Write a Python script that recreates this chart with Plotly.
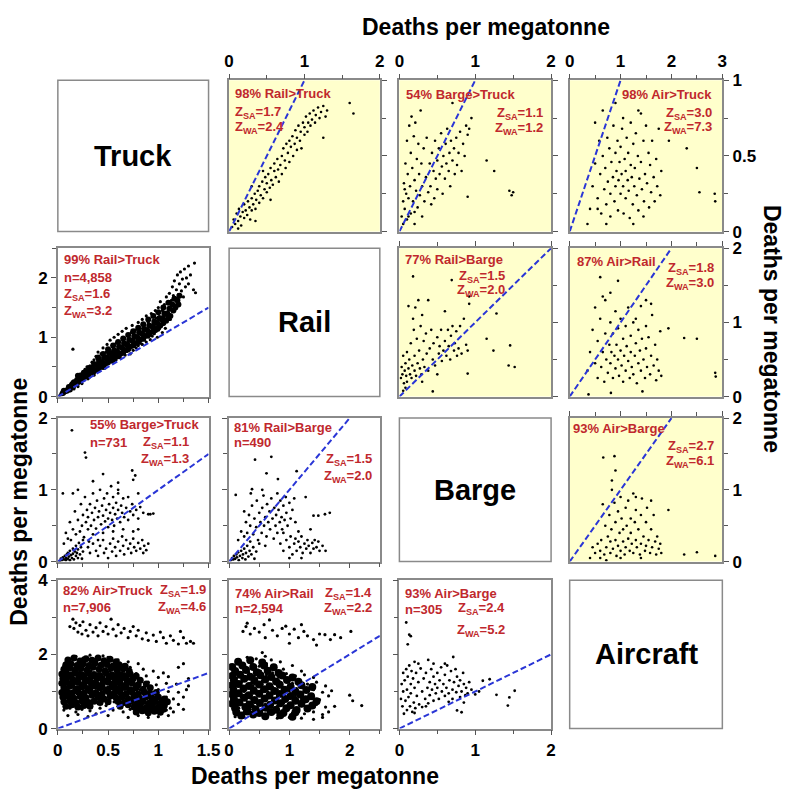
import plotly.graph_objects as go

W, H = 796, 804

# ---------------- data ----------------
# Upper triangle: column variable on x, row variable on y
up_rail_truck = [(0.04,0.03),(0.06,0.08),(0.08,0.05),(0.1,0.12),(0.12,0.07),(0.13,0.15),(0.15,0.1),(0.16,0.04),(0.18,0.13),(0.2,0.09),(0.2,0.18),(0.22,0.14),(0.24,0.11),(0.25,0.2),(0.27,0.16),(0.28,0.08),(0.3,0.22),(0.3,0.14),(0.32,0.18),(0.34,0.25),(0.35,0.15),(0.36,0.21),(0.38,0.27),(0.4,0.19),(0.4,0.3),(0.42,0.24),(0.44,0.33),(0.45,0.22),(0.47,0.28),(0.48,0.36),(0.5,0.26),(0.5,0.32),(0.52,0.38),(0.54,0.29),(0.55,0.42),(0.56,0.34),(0.58,0.31),(0.6,0.4),(0.6,0.45),(0.62,0.36),(0.64,0.48),(0.65,0.41),(0.66,0.33),(0.68,0.44),(0.7,0.5),(0.7,0.38),(0.72,0.55),(0.74,0.47),(0.75,0.42),(0.76,0.58),(0.78,0.52),(0.8,0.46),(0.8,0.6),(0.82,0.56),(0.84,0.63),(0.85,0.5),(0.87,0.58),(0.88,0.67),(0.9,0.54),(0.9,0.62),(0.92,0.7),(0.94,0.6),(0.95,0.66),(0.96,0.55),(0.98,0.72),(1.0,0.64),(1.0,0.69),(1.02,0.76),(1.04,0.66),(1.05,0.72),(1.07,0.78),(1.08,0.7),(1.1,0.74),(1.12,0.8),(1.14,0.72),(1.15,0.77),(1.18,0.82),(1.2,0.75),(1.22,0.79),(1.25,0.83),(1.28,0.76),(1.3,0.8),(1.6,0.85),(1.65,0.78),(0.35,0.07),(0.12,0.02),(0.55,0.21),(0.45,0.4),(0.3,0.3),(1.25,0.62)]
up_barge_truck = [(0.03,0.1),(0.05,0.2),(0.06,0.32),(0.07,0.15),(0.08,0.45),(0.09,0.25),(0.1,0.6),(0.1,0.08),(0.11,0.38),(0.12,0.22),(0.13,0.7),(0.14,0.3),(0.15,0.52),(0.15,0.12),(0.16,0.76),(0.17,0.42),(0.18,0.2),(0.19,0.63),(0.2,0.34),(0.2,0.05),(0.21,0.72),(0.22,0.27),(0.23,0.48),(0.24,0.16),(0.25,0.58),(0.26,0.38),(0.27,0.24),(0.28,0.8),(0.29,0.45),(0.3,0.1),(0.3,0.3),(0.32,0.55),(0.33,0.2),(0.35,0.36),(0.36,0.62),(0.38,0.26),(0.4,0.45),(0.41,0.3),(0.42,0.18),(0.43,0.52),(0.45,0.4),(0.46,0.22),(0.47,0.6),(0.48,0.35),(0.5,0.47),(0.5,0.28),(0.52,0.55),(0.53,0.38),(0.55,0.65),(0.56,0.43),(0.57,0.25),(0.58,0.5),(0.6,0.35),(0.61,0.58),(0.62,0.45),(0.63,0.68),(0.65,0.4),(0.66,0.52),(0.67,0.3),(0.68,0.6),(0.7,0.47),(0.7,0.85),(0.72,0.55),(0.73,0.38),(0.75,0.62),(0.76,0.44),(0.78,0.52),(0.8,0.66),(0.82,0.4),(0.84,0.58),(0.86,0.5),(0.88,0.7),(0.9,0.64),(0.9,0.23),(0.92,0.68),(0.95,0.75),(1.15,0.47),(1.25,0.4),(1.45,0.27),(1.5,0.26),(1.48,0.24),(0.05,0.05),(0.12,0.1),(0.2,0.13),(0.07,0.28)]
up_air_truck = [(0.35,0.05),(0.4,0.15),(0.45,0.3),(0.5,0.72),(0.5,0.45),(0.55,0.22),(0.58,0.6),(0.6,0.38),(0.62,0.12),(0.65,0.8),(0.65,0.5),(0.68,0.28),(0.7,0.42),(0.72,0.18),(0.74,0.62),(0.75,0.33),(0.78,0.55),(0.8,0.1),(0.8,0.25),(0.82,0.46),(0.85,0.36),(0.86,0.7),(0.88,0.2),(0.9,0.52),(0.9,0.3),(0.92,0.4),(0.94,0.6),(0.95,0.14),(0.96,0.34),(0.98,0.46),(1.0,0.25),(1.0,0.56),(1.02,0.38),(1.03,0.68),(1.05,0.3),(1.06,0.12),(1.08,0.48),(1.1,0.22),(1.1,0.4),(1.12,0.62),(1.14,0.34),(1.15,0.52),(1.16,0.27),(1.18,0.09),(1.2,0.44),(1.2,0.72),(1.22,0.36),(1.24,0.18),(1.25,0.58),(1.27,0.3),(1.28,0.42),(1.3,0.65),(1.32,0.24),(1.34,0.5),(1.35,0.14),(1.37,0.35),(1.4,0.78),(1.4,0.46),(1.42,0.28),(1.45,0.6),(1.46,0.2),(1.48,0.38),(1.5,0.7),(1.52,0.32),(1.55,0.52),(1.56,0.16),(1.58,0.44),(1.6,0.26),(1.62,0.6),(1.65,0.36),(1.67,0.2),(1.7,0.48),(1.72,0.3),(1.75,0.68),(1.78,0.24),(1.8,0.4),(1.95,0.6),(2.3,0.55),(2.5,0.42),(2.55,0.26),(2.85,0.25),(2.86,0.2),(0.55,0.15),(0.72,0.05),(1.05,0.75),(1.45,0.1),(1.25,0.05),(0.9,0.85),(1.35,0.8)]
up_barge_rail = [(0.18,1.62),(0.69,1.57),(0.92,1.35),(0.92,1.25),(1.28,1.12),(1.15,0.78),(1.46,0.69),(1.24,0.62),(1.44,0.42),(1.52,0.4),(0.9,0.31),(0.44,0.07),(0.02,0.25),(0.03,0.4),(0.04,0.3),(0.05,0.55),(0.06,0.18),(0.07,0.35),(0.08,0.45),(0.09,0.28),(0.1,0.6),(0.1,0.2),(0.12,0.38),(0.13,0.5),(0.14,0.3),(0.15,0.72),(0.16,0.25),(0.17,0.42),(0.18,1.05),(0.19,0.9),(0.2,0.35),(0.2,0.55),(0.21,1.2),(0.22,0.28),(0.23,0.78),(0.24,0.45),(0.25,1.3),(0.26,0.62),(0.27,0.38),(0.28,0.95),(0.29,0.3),(0.3,1.1),(0.31,0.5),(0.32,0.75),(0.33,0.4),(0.35,0.85),(0.36,0.58),(0.38,0.35),(0.4,0.65),(0.42,0.9),(0.44,0.5),(0.45,0.72),(0.47,0.42),(0.5,0.8),(0.52,0.58),(0.53,0.68),(0.55,0.9),(0.56,0.48),(0.58,0.62),(0.6,0.75),(0.62,0.55),(0.64,0.9),(0.65,0.68),(0.67,0.5),(0.68,0.82),(0.7,0.95),(0.72,0.62),(0.73,0.72),(0.75,0.88),(0.76,0.55),(0.78,0.65),(0.8,0.95),(0.82,0.58),(0.85,1.05),(0.88,0.7),(0.9,0.62),(0.38,1.3),(0.12,1.22),(0.08,0.12),(0.05,0.08),(0.3,0.2),(0.6,1.15),(0.5,0.3)]
up_air_rail = [(0.6,1.61),(0.95,1.56),(1.94,0.92),(2.25,0.79),(2.5,0.78),(2.86,0.32),(2.87,0.27),(0.37,0.03),(0.81,0.05),(1.43,0.07),(0.35,0.35),(0.4,0.6),(0.45,0.9),(0.5,0.45),(0.5,1.2),(0.55,0.25),(0.55,0.75),(0.6,1.05),(0.62,0.4),(0.65,0.6),(0.68,0.2),(0.7,0.85),(0.7,1.3),(0.72,0.5),(0.75,0.32),(0.78,0.7),(0.8,1.0),(0.8,0.45),(0.82,0.6),(0.85,0.25),(0.85,0.85),(0.88,0.55),(0.9,1.15),(0.9,0.38),(0.92,0.7),(0.95,0.5),(0.95,0.92),(0.97,0.28),(1.0,0.62),(1.0,1.05),(1.02,0.42),(1.05,0.78),(1.05,0.2),(1.07,0.55),(1.1,0.95),(1.1,0.35),(1.12,0.68),(1.15,0.48),(1.15,1.2),(1.18,0.25),(1.2,0.6),(1.2,0.82),(1.22,0.4),(1.25,1.0),(1.25,0.3),(1.28,0.55),(1.3,0.72),(1.32,0.18),(1.35,0.9),(1.35,0.45),(1.38,0.62),(1.4,1.22),(1.4,0.35),(1.42,0.78),(1.45,0.5),(1.48,0.25),(1.5,0.95),(1.5,0.65),(1.52,0.4),(1.55,0.8),(1.58,0.3),(1.6,0.55),(1.62,1.1),(1.65,0.42),(1.68,0.7),(1.7,0.22),(1.72,0.5),(1.75,0.35),(1.78,0.88),(1.8,0.28),(0.65,1.35),(0.8,1.4),(1.5,1.3),(1.6,1.25),(1.3,1.05)]
up_air_barge = [(0.66,1.45),(0.88,1.47),(0.9,1.27),(0.83,1.13),(0.83,1.0),(1.94,0.72),(2.5,0.13),(2.86,0.08),(2.25,0.1),(0.45,0.2),(0.5,0.12),(0.55,0.25),(0.6,0.15),(0.62,0.3),(0.65,0.8),(0.68,0.1),(0.7,0.5),(0.72,0.2),(0.75,0.35),(0.78,0.65),(0.8,0.12),(0.8,0.28),(0.82,0.45),(0.85,0.18),(0.88,0.82),(0.9,0.55),(0.9,0.3),(0.92,0.08),(0.95,0.7),(0.95,0.22),(0.98,0.4),(1.0,0.15),(1.0,0.9),(1.02,0.6),(1.05,0.28),(1.05,0.45),(1.08,0.1),(1.1,0.75),(1.1,0.2),(1.12,0.5),(1.15,0.32),(1.15,0.85),(1.18,0.15),(1.2,0.6),(1.2,0.4),(1.22,0.25),(1.25,0.95),(1.25,0.12),(1.28,0.55),(1.3,0.3),(1.3,0.72),(1.32,0.2),(1.35,0.45),(1.38,0.1),(1.4,0.65),(1.4,0.25),(1.42,0.88),(1.45,0.35),(1.48,0.15),(1.5,0.55),(1.5,0.22),(1.52,0.75),(1.55,0.3),(1.58,0.12),(1.6,0.45),(1.62,0.2),(1.65,0.65),(1.68,0.28),(1.7,0.1),(1.72,0.35),(1.75,0.18),(1.78,0.25),(1.8,0.12),(0.4,0.05),(0.6,0.05),(1.0,0.05),(1.4,0.05),(0.72,0.02),(1.6,0.85),(1.3,0.9)]

# Lower triangle: column variable on x, row variable on y
lo_truck_rail = [(0.02,0.02),(0.03,0.05),(0.04,0.03),(0.05,0.08),(0.05,0.04),(0.06,0.1),(0.07,0.06),(0.08,0.12),(0.08,0.07),(0.09,0.14),(0.1,0.1),(0.1,0.16),(0.11,0.13),(0.12,0.18),(0.12,0.1),(0.13,0.2),(0.14,0.15),(0.14,0.24),(0.15,0.18),(0.16,0.22),(0.16,0.13),(0.17,0.27),(0.18,0.2),(0.18,0.3),(0.19,0.24),(0.2,0.17),(0.2,0.28),(0.21,0.33),(0.22,0.25),(0.22,0.38),(0.23,0.3),(0.24,0.22),(0.24,0.35),(0.25,0.42),(0.26,0.28),(0.26,0.37),(0.27,0.46),(0.28,0.32),(0.28,0.4),(0.29,0.5),(0.3,0.3),(0.3,0.44),(0.31,0.38),(0.32,0.52),(0.32,0.34),(0.33,0.46),(0.34,0.58),(0.34,0.4),(0.35,0.5),(0.36,0.36),(0.36,0.62),(0.37,0.45),(0.38,0.55),(0.38,0.68),(0.39,0.42),(0.4,0.5),(0.4,0.6),(0.4,0.75),(0.41,0.46),(0.42,0.65),(0.42,0.55),(0.43,0.72),(0.44,0.5),(0.44,0.6),(0.45,0.82),(0.46,0.56),(0.46,0.68),(0.47,0.48),(0.48,0.75),(0.48,0.62),(0.49,0.88),(0.5,0.55),(0.5,0.7),(0.51,0.8),(0.52,0.6),(0.52,0.95),(0.53,0.68),(0.54,0.75),(0.54,0.58),(0.55,0.85),(0.56,0.66),(0.56,1.0),(0.57,0.72),(0.58,0.62),(0.58,0.9),(0.59,0.78),(0.6,0.68),(0.6,1.05),(0.6,0.85),(0.61,0.74),(0.62,0.92),(0.62,0.66),(0.63,0.82),(0.64,1.1),(0.64,0.72),(0.65,0.88),(0.66,0.78),(0.66,0.98),(0.67,0.7),(0.68,0.85),(0.68,1.15),(0.69,0.76),(0.7,0.92),(0.7,1.02),(0.71,0.8),(0.72,0.95),(0.72,0.72),(0.73,1.08),(0.74,0.86),(0.74,1.2),(0.75,0.78),(0.76,0.98),(0.76,0.9),(0.77,1.12),(0.78,0.82),(0.78,1.02),(0.79,0.94),(0.8,1.25),(0.8,0.86),(0.8,1.08),(0.81,0.98),(0.82,0.9),(0.82,1.15),(0.83,1.04),(0.84,0.88),(0.84,1.3),(0.85,1.1),(0.86,0.95),(0.86,1.2),(0.87,1.02),(0.88,0.92),(0.88,1.36),(0.89,1.12),(0.9,1.0),(0.9,1.25),(0.91,1.08),(0.92,1.18),(0.92,0.96),(0.93,1.4),(0.94,1.12),(0.94,1.02),(0.95,1.28),(0.96,1.06),(0.96,1.2),(0.97,1.45),(0.98,1.1),(0.98,1.32),(0.99,1.0),(1.0,1.22),(1.0,1.5),(1.0,1.12),(1.01,1.35),(1.02,1.18),(1.02,1.6),(1.03,1.28),(1.04,1.08),(1.04,1.45),(1.05,1.22),(1.06,1.55),(1.06,1.35),(1.07,1.15),(1.08,1.68),(1.08,1.42),(1.09,1.26),(1.1,1.58),(1.1,1.38),(1.11,1.74),(1.12,1.5),(1.12,1.3),(1.13,1.62),(1.14,1.85),(1.14,1.44),(1.15,1.7),(1.16,1.55),(1.16,1.95),(1.17,1.65),(1.18,1.8),(1.18,1.5),(1.19,2.05),(1.2,1.72),(1.2,1.6),(1.21,1.9),(1.22,2.1),(1.23,1.78),(1.24,1.98),(1.25,1.68),(1.26,2.15),(1.27,1.85),(1.28,2.0),(1.3,2.2),(1.3,1.9),(1.32,2.05),(1.35,1.8),(1.37,1.75),(1.36,2.25),(0.15,0.8)]
lo_truck_rail_core = [(0.05,0.06),(0.06,0.1),(0.09,0.1),(0.11,0.16),(0.12,0.12),(0.15,0.16),(0.16,0.24),(0.14,0.2),(0.19,0.22),(0.21,0.3),(0.2,0.35),(0.22,0.26),(0.25,0.3),(0.26,0.4),(0.24,0.36),(0.27,0.34),(0.3,0.34),(0.29,0.42),(0.31,0.48),(0.32,0.4),(0.35,0.4),(0.34,0.48),(0.36,0.55),(0.37,0.45),(0.4,0.45),(0.39,0.53),(0.41,0.6),(0.42,0.5),(0.4,0.66),(0.45,0.5),(0.44,0.58),(0.46,0.65),(0.47,0.55),(0.45,0.72),(0.5,0.58),(0.49,0.66),(0.51,0.74),(0.52,0.62),(0.5,0.8),(0.55,0.62),(0.54,0.7),(0.56,0.78),(0.57,0.68),(0.55,0.86),(0.6,0.68),(0.59,0.76),(0.61,0.84),(0.62,0.72),(0.6,0.92),(0.65,0.74),(0.64,0.82),(0.66,0.9),(0.67,0.78),(0.65,0.98),(0.7,0.8),(0.69,0.88),(0.71,0.96),(0.72,0.84),(0.7,1.04),(0.75,0.86),(0.74,0.94),(0.76,1.02),(0.77,0.9),(0.75,1.1),(0.8,0.92),(0.79,1.0),(0.81,1.08),(0.82,0.96),(0.8,1.16),(0.85,0.98),(0.84,1.06),(0.86,1.14),(0.87,1.02),(0.85,1.22),(0.9,1.04),(0.89,1.12),(0.91,1.2),(0.92,1.08),(0.9,1.3),(0.95,1.1),(0.94,1.18),(0.96,1.26),(0.97,1.14),(0.95,1.36),(1.0,1.16),(0.99,1.24),(1.01,1.32),(1.02,1.2),(1.0,1.42),(1.05,1.24),(1.04,1.32),(1.06,1.4),(1.07,1.28),(1.05,1.5),(1.1,1.32),(1.09,1.4),(1.11,1.48),(1.12,1.36),(1.1,1.58),(1.15,1.45),(1.14,1.55),(1.16,1.65),(1.17,1.5),(1.2,1.55),(1.21,1.7),(1.19,1.62)]
lo_truck_barge = [(0.02,0.01),(0.03,0.04),(0.04,0.02),(0.05,0.06),(0.06,0.03),(0.07,0.08),(0.08,0.02),(0.08,0.05),(0.09,0.1),(0.1,0.04),(0.1,0.12),(0.11,0.07),(0.12,0.02),(0.12,0.15),(0.13,0.09),(0.14,0.05),(0.15,0.18),(0.15,0.11),(0.16,0.03),(0.17,0.14),(0.18,0.08),(0.18,0.22),(0.19,0.12),(0.2,0.05),(0.2,0.17),(0.21,0.26),(0.22,0.1),(0.23,0.2),(0.24,0.04),(0.25,0.14),(0.06,0.25),(0.08,0.4),(0.1,0.32),(0.12,0.55),(0.13,0.3),(0.15,0.95),(0.15,0.45),(0.17,0.7),(0.18,0.38),(0.2,0.58),(0.2,1.0),(0.22,0.42),(0.23,0.8),(0.24,0.5),(0.25,0.65),(0.26,0.34),(0.27,0.9),(0.28,0.55),(0.29,0.72),(0.3,0.45),(0.3,0.62),(0.31,0.28),(0.32,0.8),(0.33,0.5),(0.34,0.68),(0.35,0.38),(0.35,0.95),(0.36,0.58),(0.37,0.75),(0.38,0.46),(0.39,0.85),(0.4,0.62),(0.4,0.3),(0.41,0.7),(0.42,1.0),(0.43,0.52),(0.44,0.78),(0.45,0.64),(0.45,0.4),(0.46,0.88),(0.47,0.56),(0.48,0.72),(0.49,0.95),(0.5,0.6),(0.5,0.48),(0.51,0.8),(0.52,0.68),(0.53,1.05),(0.54,0.58),(0.55,0.75),(0.55,0.9),(0.56,0.5),(0.57,0.66),(0.58,0.82),(0.59,0.6),(0.6,0.72),(0.6,0.95),(0.62,0.55),(0.63,0.78),(0.64,0.68),(0.65,0.88),(0.66,0.62),(0.68,0.75),(0.7,0.58),(0.7,0.9),(0.72,0.7),(0.74,0.8),(0.75,0.65),(0.78,0.72),(0.8,0.6),(0.82,0.76),(0.85,0.68),(0.9,0.66),(0.92,0.66),(0.95,0.67),(0.25,0.3),(0.3,0.2),(0.32,0.12),(0.35,0.25),(0.38,0.15),(0.4,0.08),(0.42,0.22),(0.45,0.3),(0.46,0.12),(0.48,0.18),(0.5,0.05),(0.52,0.25),(0.54,0.14),(0.55,0.32),(0.57,0.2),(0.58,0.08),(0.6,0.28),(0.62,0.15),(0.64,0.35),(0.65,0.22),(0.66,0.1),(0.68,0.3),(0.7,0.18),(0.72,0.25),(0.73,0.12),(0.75,0.32),(0.76,0.2),(0.78,0.15),(0.8,0.26),(0.82,0.18),(0.84,0.3),(0.85,0.12),(0.86,0.22),(0.88,0.16),(0.9,0.25),(0.55,0.42),(0.65,0.45),(0.75,0.42),(0.8,0.45),(0.14,1.83),(0.27,1.52),(0.28,1.45),(0.45,1.22),(0.6,1.1),(0.74,1.27),(0.77,1.2),(0.75,1.14),(0.6,1.0),(0.8,0.95),(0.05,0.95),(0.35,1.12)]
lo_rail_barge = [(0.03,0.02),(0.05,0.05),(0.07,0.03),(0.08,0.08),(0.1,0.04),(0.12,0.1),(0.13,0.06),(0.15,0.13),(0.16,0.02),(0.18,0.08),(0.2,0.15),(0.22,0.05),(0.23,0.1),(0.25,0.18),(0.27,0.03),(0.28,0.12),(0.3,0.22),(0.32,0.07),(0.34,0.15),(0.35,0.28),(0.37,0.1),(0.4,0.2),(0.42,0.04),(0.45,0.14),(0.15,0.3),(0.2,0.42),(0.25,0.35),(0.28,0.55),(0.3,0.4),(0.33,0.65),(0.35,0.5),(0.38,0.78),(0.4,0.38),(0.42,0.6),(0.45,0.48),(0.46,0.85),(0.48,0.3),(0.5,0.68),(0.52,0.55),(0.54,0.4),(0.55,0.75),(0.57,0.92),(0.58,0.5),(0.6,0.62),(0.62,0.35),(0.63,0.8),(0.65,0.55),(0.67,0.7),(0.68,0.45),(0.7,0.88),(0.72,0.6),(0.74,0.32),(0.75,0.75),(0.77,0.5),(0.78,0.65),(0.8,0.4),(0.8,0.95),(0.82,0.72),(0.84,0.55),(0.85,0.85),(0.87,0.62),(0.88,0.45),(0.9,0.78),(0.92,0.58),(0.94,0.9),(0.95,0.68),(0.97,0.5),(1.0,0.82),(1.02,0.6),(1.05,0.72),(1.08,0.88),(1.1,0.55),(0.36,0.95),(0.55,1.0),(0.25,0.7),(0.6,0.22),(0.5,0.25),(0.85,0.25),(0.9,0.15),(0.95,0.3),(1.0,0.2),(1.02,0.35),(1.05,0.1),(1.08,0.25),(1.1,0.32),(1.12,0.15),(1.15,0.28),(1.18,0.2),(1.2,0.35),(1.22,0.12),(1.25,0.25),(1.28,0.18),(1.3,0.3),(1.32,0.22),(1.35,0.12),(1.38,0.26),(1.4,0.18),(1.42,0.3),(1.45,0.2),(1.48,0.28),(1.5,0.15),(1.55,0.22),(1.6,0.15),(1.2,0.05),(1.0,0.05),(0.9,0.4),(1.15,0.42),(0.43,1.42),(0.7,1.46),(0.62,1.23),(1.12,1.26),(0.11,0.93),(0.38,1.01),(0.81,1.15),(1.27,0.9),(1.4,0.64),(1.48,0.64),(1.59,0.66),(1.67,0.68),(1.35,0.45)]
lo_truck_air = [(0.15,2.95),(0.16,2.7),(0.18,2.85),(0.2,2.6),(0.22,2.78),(0.24,2.55),(0.25,2.88),(0.28,2.65),(0.3,2.5),(0.32,2.8),(0.35,2.6),(0.38,2.72),(0.4,2.5),(0.42,2.85),(0.45,2.62),(0.48,2.75),(0.5,2.55),(0.53,2.95),(0.55,2.68),(0.58,2.5),(0.6,2.8),(0.63,2.58),(0.66,2.7),(0.7,2.45),(0.72,2.62),(0.75,2.75),(0.78,2.5),(0.8,2.65),(0.84,2.42),(0.88,2.58),(0.9,2.38),(0.95,2.52),(0.98,2.35),(1.02,2.6),(1.05,2.45),(1.08,2.3),(1.12,2.5),(1.15,2.38),(1.2,2.28),(1.25,2.45),(1.28,2.3),(1.32,2.35),(1.35,2.3),(1.22,2.62),(0.12,2.75),(0.1,1.85),(0.18,1.95),(0.25,1.9),(0.32,1.98),(0.4,1.88),(0.5,1.92),(0.6,1.85),(0.7,1.8),(0.8,1.75),(0.14,1.9),(0.45,1.96),(0.06,1.7),(0.12,1.75),(0.2,1.68),(0.27,1.78),(0.35,1.72),(0.42,1.65),(0.5,1.75),(0.57,1.68),(0.65,1.72),(0.72,1.65),(0.85,1.6),(0.95,1.55),(1.05,1.5),(1.2,1.65),(1.25,1.75),(0.05,1.5),(0.1,1.55),(0.15,1.45),(0.22,1.52),(0.28,1.42),(0.33,1.55),(0.4,1.48),(0.46,1.4),(0.52,1.55),(0.58,1.45),(0.64,1.5),(0.7,1.4),(0.78,1.48),(0.88,1.42),(1.0,1.38),(1.1,1.4),(1.3,1.35),(0.04,1.3),(0.09,1.35),(0.14,1.25),(0.19,1.32),(0.24,1.22),(0.3,1.35),(0.36,1.28),(0.42,1.2),(0.48,1.33),(0.54,1.25),(0.6,1.3),(0.66,1.2),(0.72,1.28),(0.8,1.22),(0.9,1.25),(0.98,1.18),(1.08,1.22),(1.18,1.2),(1.3,1.15),(0.05,1.1),(0.1,1.15),(0.16,1.05),(0.21,1.12),(0.26,1.02),(0.32,1.15),(0.38,1.08),(0.44,1.0),(0.5,1.12),(0.56,1.05),(0.62,1.1),(0.68,1.0),(0.75,1.08),(0.82,1.05),(0.9,1.0),(1.0,1.05),(1.1,1.0),(1.2,0.98),(1.28,1.05),(0.06,0.9),(0.11,0.95),(0.17,0.85),(0.22,0.92),(0.28,0.82),(0.34,0.95),(0.4,0.88),(0.46,0.8),(0.52,0.92),(0.58,0.85),(0.65,0.9),(0.72,0.82),(0.78,0.92),(0.85,0.85),(0.92,0.88),(1.0,0.82),(1.08,0.85),(1.15,0.8),(1.25,0.85),(0.05,0.7),(0.1,0.75),(0.15,0.65),(0.2,0.72),(0.26,0.62),(0.32,0.75),(0.4,0.68),(0.48,0.62),(0.56,0.72),(0.64,0.65),(0.7,0.72),(0.76,0.6),(0.82,0.7),(0.88,0.62),(0.94,0.72),(1.0,0.6),(1.06,0.68),(1.12,0.55),(1.2,0.65),(0.06,0.5),(0.12,0.55),(0.18,0.45),(0.24,0.52),(0.32,0.48),(0.42,0.55),(0.55,0.5),(0.65,0.45),(0.72,0.52),(0.78,0.42),(0.84,0.5),(0.9,0.4),(0.96,0.48),(1.02,0.42),(1.08,0.5),(1.15,0.45),(1.25,0.52),(0.1,0.35),(0.2,0.38),(0.3,0.32),(0.5,0.35),(0.7,0.3),(0.8,0.35),(0.9,0.3),(1.0,0.32),(1.1,0.35),(0.15,1.2),(0.25,1.4),(0.35,1.0),(0.45,1.3),(0.55,0.95),(0.3,0.6),(0.2,1.0),(0.4,1.6),(0.6,0.6),(0.18,0.58),(0.38,0.4),(0.85,0.55),(0.95,0.6),(0.08,0.6)]
lo_truck_air_core = [(0.1,1.85),(0.16,1.9),(0.22,1.82),(0.28,1.88),(0.34,1.84),(0.4,1.9),(0.46,1.83),(0.52,1.87),(0.58,1.8),(0.08,1.72),(0.13,1.75),(0.19,1.7),(0.25,1.74),(0.31,1.7),(0.37,1.76),(0.43,1.71),(0.49,1.73),(0.55,1.69),(0.61,1.72),(0.67,1.68),(0.06,1.6),(0.12,1.64),(0.17,1.57),(0.23,1.62),(0.29,1.58),(0.35,1.65),(0.41,1.6),(0.47,1.56),(0.53,1.63),(0.59,1.58),(0.65,1.61),(0.71,1.55),(0.04,1.47),(0.08,1.5),(0.13,1.45),(0.18,1.49),(0.24,1.45),(0.3,1.5),(0.36,1.46),(0.42,1.43),(0.48,1.5),(0.54,1.45),(0.6,1.48),(0.66,1.43),(0.72,1.47),(0.78,1.42),(0.05,1.35),(0.1,1.4),(0.15,1.32),(0.21,1.37),(0.27,1.33),(0.33,1.4),(0.39,1.35),(0.45,1.3),(0.51,1.38),(0.57,1.33),(0.63,1.36),(0.69,1.3),(0.75,1.35),(0.82,1.3),(0.04,1.22),(0.09,1.25),(0.14,1.2),(0.2,1.24),(0.26,1.2),(0.32,1.26),(0.38,1.21),(0.44,1.18),(0.5,1.25),(0.56,1.2),(0.62,1.23),(0.68,1.18),(0.74,1.22),(0.8,1.18),(0.88,1.2),(0.06,1.1),(0.12,1.14),(0.18,1.07),(0.24,1.12),(0.3,1.08),(0.36,1.15),(0.42,1.1),(0.48,1.05),(0.54,1.13),(0.6,1.08),(0.66,1.11),(0.72,1.05),(0.78,1.1),(0.85,1.06),(0.92,1.1),(0.04,0.97),(0.09,1.0),(0.14,0.95),(0.2,0.99),(0.26,0.95),(0.32,1.01),(0.38,0.96),(0.44,0.93),(0.5,1.0),(0.56,0.95),(0.62,0.98),(0.68,0.93),(0.74,0.97),(0.8,0.93),(0.86,0.98),(0.92,0.94),(0.98,0.97),(0.05,0.85),(0.1,0.88),(0.16,0.82),(0.22,0.87),(0.28,0.83),(0.34,0.9),(0.4,0.85),(0.46,0.8),(0.52,0.87),(0.58,0.83),(0.64,0.86),(0.7,0.8),(0.76,0.85),(0.82,0.81),(0.88,0.86),(0.94,0.82),(1.0,0.85),(1.06,0.8),(0.06,0.72),(0.12,0.75),(0.18,0.7),(0.24,0.74),(0.3,0.7),(0.36,0.74),(0.42,0.7),(0.5,0.72),(0.6,0.73),(0.66,0.7),(0.73,0.74),(0.79,0.69),(0.85,0.73),(0.91,0.69),(0.97,0.73),(1.03,0.7),(1.09,0.72),(0.08,0.6),(0.14,0.64),(0.2,0.58),(0.26,0.62),(0.32,0.6),(0.62,0.6),(0.7,0.64),(0.76,0.58),(0.82,0.62),(0.88,0.57),(0.94,0.63),(1.0,0.58),(1.06,0.62),(0.81,0.53),(0.87,0.5),(0.93,0.54),(0.99,0.5),(1.05,0.52),(0.78,0.45),(0.84,0.48),(0.9,0.43),(0.96,0.47),(1.02,0.44)]
lo_rail_air = [(0.23,2.62),(0.28,2.75),(0.3,2.84),(0.35,2.55),(0.42,2.7),(0.5,2.6),(0.58,2.8),(0.67,2.93),(0.72,2.65),(0.8,2.5),(0.88,2.7),(0.94,2.76),(1.0,2.55),(1.08,2.68),(1.15,2.45),(1.24,2.62),(1.3,2.5),(1.4,2.4),(1.5,2.55),(1.59,2.53),(1.68,2.4),(1.75,2.53),(1.85,2.45),(2.02,2.62),(1.2,2.8),(0.6,2.45),(1.0,2.3),(1.45,2.25),(0.15,1.85),(0.3,1.92),(0.45,1.88),(0.6,1.95),(0.7,1.85),(0.85,1.8),(0.55,2.05),(0.08,1.7),(0.18,1.75),(0.28,1.65),(0.38,1.72),(0.5,1.68),(0.62,1.75),(0.75,1.65),(0.9,1.6),(1.05,1.7),(1.2,1.55),(0.06,1.5),(0.14,1.55),(0.22,1.45),(0.32,1.52),(0.42,1.42),(0.52,1.55),(0.62,1.45),(0.72,1.5),(0.82,1.4),(0.95,1.48),(1.1,1.42),(1.25,1.45),(1.4,1.38),(0.05,1.3),(0.12,1.35),(0.2,1.25),(0.28,1.32),(0.36,1.22),(0.45,1.35),(0.55,1.28),(0.65,1.2),(0.75,1.32),(0.85,1.25),(0.95,1.3),(1.05,1.22),(1.15,1.3),(1.3,1.2),(1.45,1.25),(1.6,1.15),(0.06,1.1),(0.14,1.15),(0.22,1.05),(0.3,1.12),(0.38,1.02),(0.46,1.15),(0.55,1.08),(0.64,1.0),(0.72,1.12),(0.8,1.05),(0.9,1.1),(1.0,1.02),(1.12,1.08),(1.25,1.0),(1.4,1.05),(1.55,0.98),(1.7,1.02),(0.05,0.9),(0.12,0.95),(0.2,0.85),(0.28,0.92),(0.36,0.82),(0.45,0.95),(0.54,0.88),(0.62,0.8),(0.7,0.92),(0.8,0.85),(0.9,0.9),(1.0,0.82),(1.1,0.88),(1.2,0.8),(1.35,0.85),(1.5,0.78),(1.65,0.88),(2.0,0.9),(2.05,0.75),(0.06,0.7),(0.14,0.75),(0.22,0.65),(0.3,0.72),(0.4,0.62),(0.5,0.72),(0.6,0.65),(0.7,0.7),(0.8,0.6),(0.9,0.68),(1.0,0.6),(1.1,0.7),(1.2,0.62),(1.3,0.55),(1.45,0.65),(1.6,0.58),(1.75,0.6),(2.2,0.62),(0.08,0.5),(0.16,0.55),(0.25,0.45),(0.35,0.52),(0.45,0.42),(0.55,0.5),(0.65,0.45),(0.75,0.5),(0.85,0.4),(0.95,0.48),(1.05,0.42),(1.15,0.5),(1.25,0.4),(1.4,0.45),(1.55,0.38),(1.65,0.45),(0.1,0.32),(0.25,0.3),(0.4,0.35),(0.6,0.3),(0.8,0.28),(1.0,0.3),(1.2,0.28),(1.4,0.25),(1.55,0.3),(0.25,1.0),(0.35,1.4),(0.45,0.7),(0.55,1.2),(0.15,0.65),(0.65,1.6),(0.4,1.15),(0.5,0.9)]
lo_rail_air_core = [(0.15,1.8),(0.35,1.84),(0.55,1.78),(0.05,1.66),(0.22,1.7),(0.4,1.66),(0.58,1.7),(0.74,1.65),(0.1,1.55),(0.28,1.58),(0.46,1.52),(0.64,1.56),(0.82,1.5),(0.05,1.42),(0.18,1.45),(0.35,1.4),(0.52,1.44),(0.7,1.39),(0.88,1.43),(1.05,1.38),(0.08,1.3),(0.25,1.34),(0.42,1.28),(0.6,1.32),(0.78,1.27),(0.96,1.31),(1.15,1.26),(0.05,1.17),(0.16,1.2),(0.33,1.15),(0.5,1.19),(0.67,1.14),(0.84,1.18),(1.02,1.13),(1.2,1.17),(1.38,1.12),(0.07,1.05),(0.24,1.08),(0.41,1.02),(0.58,1.06),(0.75,1.01),(0.92,1.05),(1.1,1.0),(1.28,1.04),(0.05,0.92),(0.16,0.95),(0.33,0.9),(0.5,0.94),(0.67,0.89),(0.84,0.93),(1.02,0.88),(1.18,0.92),(1.36,0.87),(0.08,0.8),(0.25,0.83),(0.42,0.77),(0.59,0.81),(0.76,0.76),(0.93,0.8),(1.1,0.75),(1.27,0.79),(1.45,0.74),(0.05,0.67),(0.17,0.7),(0.34,0.65),(0.51,0.69),(0.68,0.64),(0.85,0.68),(1.02,0.63),(1.2,0.67),(1.38,0.62),(0.1,0.55),(0.27,0.58),(0.44,0.52),(0.61,0.56),(0.78,0.51),(0.95,0.55),(1.12,0.5),(1.3,0.54),(0.12,0.44),(0.3,0.46),(0.5,0.42),(0.7,0.45),(0.9,0.42),(1.1,0.44),(0.2,0.35),(0.4,0.38),(0.6,0.33),(0.85,0.36),(1.05,0.32)]
lo_barge_air = [(0.02,0.8),(0.03,1.2),(0.04,0.6),(0.05,1.5),(0.05,1.0),(0.06,0.4),(0.07,1.3),(0.08,0.75),(0.09,1.6),(0.1,1.05),(0.1,0.5),(0.11,1.4),(0.12,0.85),(0.13,1.7),(0.14,0.6),(0.15,1.2),(0.15,0.95),(0.16,1.55),(0.17,0.45),(0.18,1.35),(0.19,0.7),(0.2,1.8),(0.2,1.1),(0.21,0.55),(0.22,1.5),(0.23,0.88),(0.25,1.25),(0.26,0.65),(0.28,1.62),(0.3,1.0),(0.3,0.58),(0.32,1.35),(0.34,0.8),(0.35,1.5),(0.37,1.1),(0.38,0.68),(0.4,1.25),(0.4,0.9),(0.42,1.6),(0.43,1.05),(0.45,1.4),(0.45,0.75),(0.47,1.2),(0.48,0.95),(0.5,1.5),(0.5,1.1),(0.52,0.8),(0.53,1.3),(0.55,1.65),(0.56,1.0),(0.58,1.2),(0.6,0.88),(0.6,1.45),(0.62,1.1),(0.63,1.7),(0.65,0.95),(0.66,1.3),(0.68,1.55),(0.7,1.05),(0.7,0.8),(0.72,1.25),(0.74,1.6),(0.75,0.98),(0.76,1.4),(0.78,1.15),(0.8,0.85),(0.8,1.3),(0.82,1.0),(0.84,1.5),(0.85,1.2),(0.87,0.9),(0.88,1.1),(0.9,0.95),(0.92,1.25),(0.95,1.05),(0.85,0.7),(0.65,0.72),(0.35,0.6),(0.2,0.42),(0.25,1.75),(0.45,1.75),(0.6,1.75),(0.38,1.85),(0.09,2.86),(0.13,2.53),(0.15,2.49),(0.11,2.27),(0.71,1.93),(1.1,1.29),(1.19,1.33),(1.28,0.91),(1.45,0.84),(1.52,1.02),(1.43,0.62),(0.82,0.44),(0.76,0.49),(1.0,0.92),(1.05,1.0)]

mode_names = ["Truck", "Rail", "Barge", "Aircraft"]
axis_title = "Deaths per megatonne"

# ---------------- layout geometry ----------------
cols_px = [(54, 208), (229, 383), (403, 558), (577, 733)]
rows_px = [(73, 228), (245, 397), (419, 566), (585, 737)]

def xdom(c):
    a, b = cols_px[c]
    return [a / W, b / W]

def ydom(r):
    a, b = rows_px[r]
    return [1 - b / H, 1 - a / H]

RED = "#C0282D"
GRAY = "#8a8a8a"
FONT = "Liberation Sans"
YELLOW = "#FFFFCC"

# (row, col, points, core points, xmax, xdtick, xminor, ymax, ydtick, yminor, upper, msize, core size)
panels = [
    (0, 1, up_rail_truck, None, 2, 1, 0.5, 1, 0.5, 0.25, True, 2.6, 0),
    (0, 2, up_barge_truck, None, 2, 1, 0.5, 1, 0.5, 0.25, True, 2.6, 0),
    (0, 3, up_air_truck, None, 3, 1, 0.5, 1, 0.5, 0.25, True, 2.6, 0),
    (1, 2, up_barge_rail, None, 2, 1, 0.5, 2, 1, 0.5, True, 2.6, 0),
    (1, 3, up_air_rail, None, 3, 1, 0.5, 2, 1, 0.5, True, 2.6, 0),
    (2, 3, up_air_barge, None, 3, 1, 0.5, 2, 1, 0.5, True, 2.6, 0),
    (1, 0, lo_truck_rail, lo_truck_rail_core, 1.5, 0.5, 0.25, 2.5, 1, 0.5, False, 3.2, 6),
    (2, 0, lo_truck_barge, None, 1.5, 0.5, 0.25, 2, 1, 0.5, False, 2.8, 0),
    (2, 1, lo_rail_barge, None, 2.5, 1, 0.5, 2, 1, 0.5, False, 2.8, 0),
    (3, 0, lo_truck_air, lo_truck_air_core, 1.5, 0.5, 0.25, 4, 2, 1, False, 3.2, 7),
    (3, 1, lo_rail_air, lo_rail_air_core, 2.5, 1, 0.5, 4, 2, 1, False, 3.2, 8),
    (3, 2, lo_barge_air, None, 2, 1, 0.5, 4, 2, 1, False, 2.8, 0),
]

fig = go.Figure()
layout = {}
shapes = []

for i, (r, c, pts, core, xm, xdt, xmn, ym, ydt, ymn, upper, ms, cs) in enumerate(panels):
    k = i + 1
    xn = "x" if k == 1 else f"x{k}"
    yn = "y" if k == 1 else f"y{k}"
    if core:
        fig.add_trace(go.Scatter(x=[p[0] for p in core], y=[p[1] for p in core], mode="markers",
                                 xaxis=xn, yaxis=yn,
                                 marker=dict(color="black", size=cs, line=dict(width=0)),
                                 showlegend=False, hoverinfo="skip"))
    fig.add_trace(go.Scatter(x=[p[0] for p in pts], y=[p[1] for p in pts], mode="markers",
                             xaxis=xn, yaxis=yn,
                             marker=dict(color="black", size=ms, line=dict(width=0)),
                             showlegend=False, hoverinfo="skip"))
    m = min(xm, ym)
    fig.add_trace(go.Scatter(x=[0, m], y=[0, m], mode="lines", xaxis=xn, yaxis=yn,
                             line=dict(color="#2A36D6", width=2, dash="6px,3px"),
                             showlegend=False, hoverinfo="skip"))
    show_x = (upper and r == 0) or ((not upper) and r == 3)
    show_y = (upper and c == 3) or ((not upper) and c == 0)
    common = dict(showgrid=False, zeroline=False, showline=True, linecolor=GRAY,
                  linewidth=1.5, mirror=True, ticks="outside", ticklen=5,
                  tickcolor="#555555", tickwidth=1.2, tick0=0,
                  tickfont=dict(family=FONT, size=17, color="black", weight="bold"))
    xa = dict(common, domain=xdom(c), range=[0, xm], dtick=xdt, anchor=yn,
              showticklabels=show_x,
              minor=dict(dtick=xmn, ticks="outside", ticklen=4, tickcolor="#555555", tick0=0))
    ya = dict(common, domain=ydom(r), range=[0, ym], dtick=ydt, anchor=xn,
              showticklabels=show_y,
              minor=dict(dtick=ymn, ticks="outside", ticklen=4, tickcolor="#555555", tick0=0))
    if upper:
        xa["side"] = "top"
        ya["side"] = "right"
        shapes.append(dict(type="rect", xref=f"{xn} domain", yref=f"{yn} domain",
                           x0=0, x1=1, y0=0, y1=1, fillcolor=YELLOW,
                           line=dict(width=0), layer="below"))
    layout["xaxis" if k == 1 else f"xaxis{k}"] = xa
    layout["yaxis" if k == 1 else f"yaxis{k}"] = ya

annotations = []

# diagonal boxes with mode names
for d, name in enumerate(mode_names):
    x0, x1 = cols_px[d]
    y0, y1 = rows_px[d]
    shapes.append(dict(type="rect", xref="paper", yref="paper",
                       x0=x0 / W, x1=x1 / W, y0=1 - y1 / H, y1=1 - y0 / H,
                       fillcolor="white", line=dict(color=GRAY, width=1.5)))
    annotations.append(dict(x=(x0 + x1) / 2 / W, y=1 - (y0 + y1) / 2 / H,
                            xref="paper", yref="paper", showarrow=False,
                            xanchor="center", yanchor="middle",
                            text=f"<b>{name}</b>",
                            font=dict(family=FONT, size=29, color="black")))

def note(px, py, text, anchor="left"):
    annotations.append(dict(x=px / W, y=1 - py / H, xref="paper", yref="paper",
                            xanchor=anchor, yanchor="middle", showarrow=False,
                            text=f"<b>{text}</b>",
                            font=dict(family=FONT, size=13, color=RED)))

ZSA = "Z<sub>SA</sub>"
ZWA = "Z<sub>WA</sub>"
# upper panels
note(233, 87, "98% Rail&gt;Truck")
note(233, 106, f"{ZSA}=1.7")
note(233, 121, f"{ZWA}=2.4")
note(408, 88, "54% Barge&gt;Truck")
note(552, 107, f"{ZSA}=1.1", "right")
note(552, 122, f"{ZWA}=1.2", "right")
note(724, 88, "98% Air&gt;Truck", "right")
note(724, 107, f"{ZSA}=3.0", "right")
note(724, 121, f"{ZWA}=7.3", "right")
note(407, 257, "77% Rail&gt;Barge")
note(513, 274, f"{ZSA}=1.5", "right")
note(513, 288, f"{ZWA}=2.0", "right")
note(582, 259, "87% Air&gt;Rail")
note(727, 266, f"{ZSA}=1.8", "right")
note(727, 281, f"{ZWA}=3.0", "right")
note(578, 430, "93% Air&gt;Barge")
note(727, 448, f"{ZSA}=2.7", "right")
note(727, 463, f"{ZWA}=6.1", "right")
# lower panels
note(58, 257, "99% Rail&gt;Truck")
note(58, 275, "n=4,858")
note(58, 292, f"{ZSA}=1.6")
note(58, 310, f"{ZWA}=3.2")
note(85, 426, "55% Barge&gt;Truck")
note(85, 444, "n=731")
note(190, 444, f"{ZSA}=1.1", "right")
note(190, 461, f"{ZWA}=1.3", "right")
note(232, 429, "81% Rail&gt;Barge")
note(232, 444, "n=490")
note(377, 461, f"{ZSA}=1.5", "right")
note(377, 479, f"{ZWA}=2.0", "right")
note(57, 596, "82% Air&gt;Truck")
note(57, 613, "n=7,906")
note(207, 596, f"{ZSA}=1.9", "right")
note(207, 613, f"{ZWA}=4.6", "right")
note(233, 599, "74% Air&gt;Rail")
note(233, 614, "n=2,594")
note(377, 599, f"{ZSA}=1.4", "right")
note(377, 614, f"{ZWA}=2.2", "right")
note(407, 599, "93% Air&gt;Barge")
note(407, 615, "n=305")
note(513, 614, f"{ZSA}=2.4", "right")
note(513, 637, f"{ZWA}=5.2", "right")

# axis titles
tfont = dict(family=FONT, size=23, color="black")
def title(px, py, angle=0):
    annotations.append(dict(x=px / W, y=1 - py / H, xref="paper", yref="paper", showarrow=False,
                            xanchor="center", yanchor="middle", textangle=angle,
                            text=f"<b>{axis_title}</b>", font=tfont))
title(492, 18)
title(317, 786)
title(14, 505, -90)
title(783, 328, 90)

fig.update_layout(**layout)
fig.update_layout(width=W, height=H, margin=dict(l=0, r=0, t=0, b=0),
                  paper_bgcolor="white", plot_bgcolor="rgba(0,0,0,0)",
                  shapes=shapes, annotations=annotations, showlegend=False,
                  font=dict(family=FONT))

fig.write_html("out.html")
